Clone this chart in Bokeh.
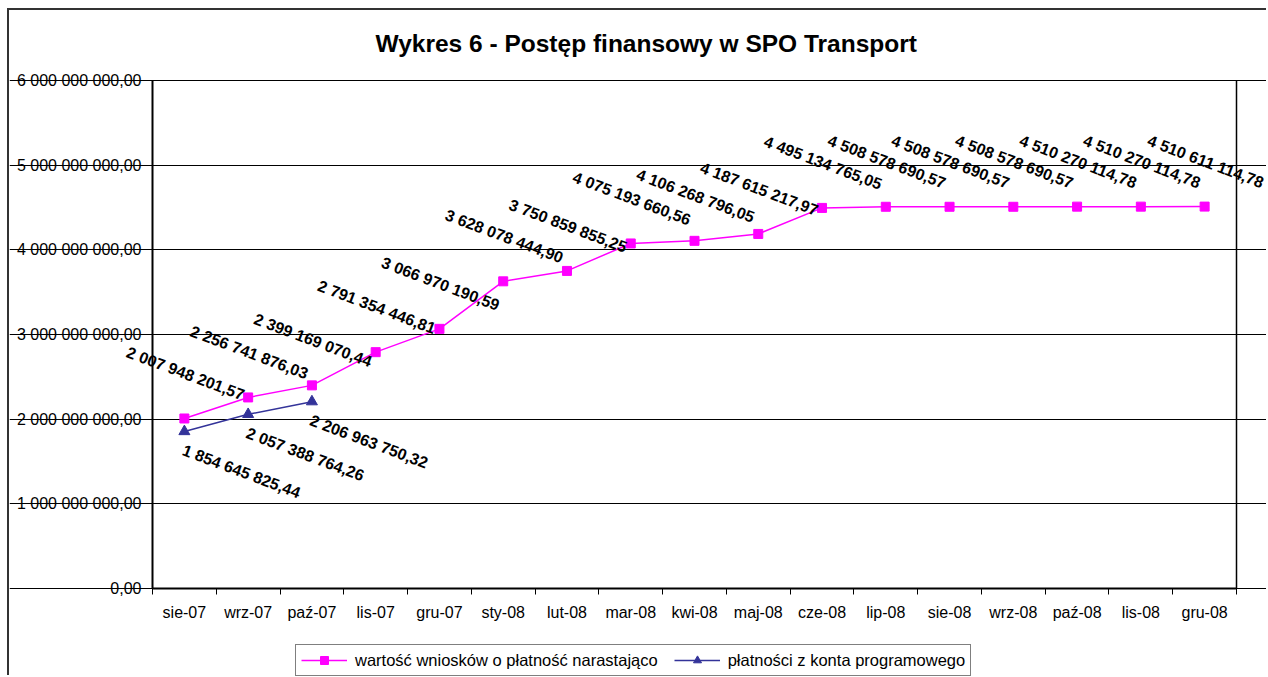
from bokeh.plotting import figure
from bokeh.models import (FixedTicker, Legend, LegendItem, ColumnDataSource, Title,
                          Range1d, LabelSet, LinearAxis)
from bokeh.core.properties import value
from bokeh.embed import file_html
from bokeh.resources import INLINE

# ---- data ----
months = ["sie-07", "wrz-07", "paź-07", "lis-07", "gru-07", "sty-08", "lut-08",
          "mar-08", "kwi-08", "maj-08", "cze-08", "lip-08", "sie-08", "wrz-08",
          "paź-08", "lis-08", "gru-08"]
wnioski = [2007948201.57, 2256741876.03, 2399169070.44, 2791354446.81,
           3066970190.59, 3628078444.90, 3750859855.25, 4075193660.56,
           4106268796.05, 4187615217.97, 4495134765.05, 4508578690.57,
           4508578690.57, 4508578690.57, 4510270114.78, 4510270114.78,
           4510611114.78]
platnosci = [1854645825.44, 2057388764.26, 2206963750.32]
y_ticks = [0, 1000000000, 2000000000, 3000000000, 4000000000, 5000000000, 6000000000]
series_names = ["wartość wniosków o płatność narastająco",
                "płatności z konta programowego"]
title_text = "Wykres 6 - Postęp finansowy w SPO Transport"


def fmt(v):
    return f"{v:,.2f}".replace(",", " ").replace(".", ",")


FONT = "Liberation Sans"
MAG = "#FF00FF"
NAVY = "#333399"

n = len(months)
x_w = [i + 0.5 for i in range(len(wnioski))]
x_p = [i + 0.5 for i in range(len(platnosci))]

src_w = ColumnDataSource(dict(x=x_w, y=wnioski, t=[fmt(v) for v in wnioski]))
src_p = ColumnDataSource(dict(x=x_p, y=platnosci, t=[fmt(v) for v in platnosci]))

# layout (canvas pixels); the frame fills the canvas below the title band
W, H = 1259, 667
TOP = 56                              # frame top
AREA_T = 70                           # plot area top (value 6e9)
AREA_L, AREA_R = 143, 1227            # plot area left/right
AREA_B = 578                          # plot area bottom (value 0)
unit_x = (AREA_R - AREA_L) / n
x_start = -AREA_L / unit_x
x_end = n + (W - AREA_R) / unit_x
unit_y = (AREA_B - AREA_T) / (y_ticks[-1] - y_ticks[0])
y_top = y_ticks[-1] + (AREA_T - TOP) / unit_y
y_start = y_ticks[0] - (H - AREA_B) / unit_y

p = figure(width=W, height=H, x_range=Range1d(x_start, x_end),
           y_range=Range1d(y_start, y_top),
           output_backend="svg", toolbar_location=None,
           min_border_left=0, min_border_right=0, min_border_top=TOP,
           min_border_bottom=0)
p.styles = {"margin-left": "7px", "margin-top": "8px",
            "border-left": "2px solid #333", "border-top": "2px solid #333"}
p.background_fill_color = "white"
p.border_fill_color = "white"
p.outline_line_color = None

# title
t = Title(text=title_text, align="left", offset=366, text_font=FONT,
          text_font_size="24.5px", text_font_style="bold", text_color="black",
          standoff=20)
p.add_layout(t, "above")

# axes
xa = p.xaxis[0]
xa.fixed_location = 0
xa.bounds = (0, n)
xa.ticker = FixedTicker(ticks=x_w, minor_ticks=list(range(n + 1)))
xa.major_label_overrides = {x: m for x, m in zip(x_w, months)}
xa.major_tick_out = 0
xa.major_tick_in = 0
xa.minor_tick_out = 6
xa.minor_tick_in = 0
xa.minor_tick_line_color = "black"
xa.axis_line_width = 2
xa.major_label_standoff = 9
xa.major_label_text_font = FONT
xa.major_label_text_font_size = "16px"
xa.major_label_text_color = "black"

ya = p.yaxis[0]
ya.fixed_location = 0
ya.bounds = (y_ticks[0], y_ticks[-1])
ya.ticker = FixedTicker(ticks=y_ticks, minor_ticks=[])
ya.major_label_overrides = {v: fmt(v) for v in y_ticks}
ya.major_tick_out = 6
ya.major_tick_in = 0
ya.axis_line_width = 2
ya.major_label_standoff = 5
ya.major_label_text_font = FONT
ya.major_label_text_font_size = "16px"
ya.major_label_text_color = "black"

# right edge of plot area
ra = LinearAxis(fixed_location=n, bounds=(y_ticks[0], y_ticks[-1]),
                ticker=FixedTicker(ticks=[], minor_ticks=[]),
                major_tick_out=0, major_tick_in=0, minor_tick_out=0,
                minor_tick_in=0, major_label_text_font_size="0px",
                axis_line_color="black", axis_line_width=1.5)
p.add_layout(ra, "right")

p.xgrid.visible = False
p.ygrid.ticker = FixedTicker(ticks=y_ticks, minor_ticks=[])
p.ygrid.bounds = (0, n)
p.ygrid.grid_line_color = "black"
p.ygrid.grid_line_alpha = 1.0
p.ygrid.grid_line_width = 1

# series
l1 = p.line("x", "y", source=src_w, line_color=MAG, line_width=1.5)
s1 = p.scatter("x", "y", source=src_w, marker="square", size=9,
               fill_color=MAG, line_color=MAG)
l2 = p.line("x", "y", source=src_p, line_color=NAVY, line_width=1.5)
s2 = p.scatter("x", "y", source=src_p, marker="triangle", size=11,
               fill_color=NAVY, line_color=NAVY)

lab1 = LabelSet(x="x", y="y", text="t", source=src_w, angle=-0.36,
                x_offset=1, y_offset=45, text_align="center",
                text_baseline="middle", text_font=value(FONT),
                text_font_size=value("16px"), text_font_style="bold",
                text_color="black")
lab2 = LabelSet(x="x", y="y", text="t", source=src_p, angle=-0.36,
                x_offset=57, y_offset=-40, text_align="center",
                text_baseline="middle", text_font=value(FONT),
                text_font_size=value("16px"), text_font_style="bold",
                text_color="black")
p.add_layout(lab1)
p.add_layout(lab2)

legend = Legend(items=[LegendItem(label=series_names[0], renderers=[l1, s1]),
                       LegendItem(label=series_names[1], renderers=[l2, s2])],
                orientation="horizontal", location=(286, 1),
                label_text_font=FONT, label_text_font_size="16.5px",
                label_text_color="black", glyph_width=46, glyph_height=20,
                label_height=20, label_standoff=8, spacing=16, padding=5,
                margin=0, border_line_color="black", border_line_width=1,
                background_fill_alpha=1.0)
p.add_layout(legend, "center")

open("out.html", "w").write(file_html(p, INLINE))
